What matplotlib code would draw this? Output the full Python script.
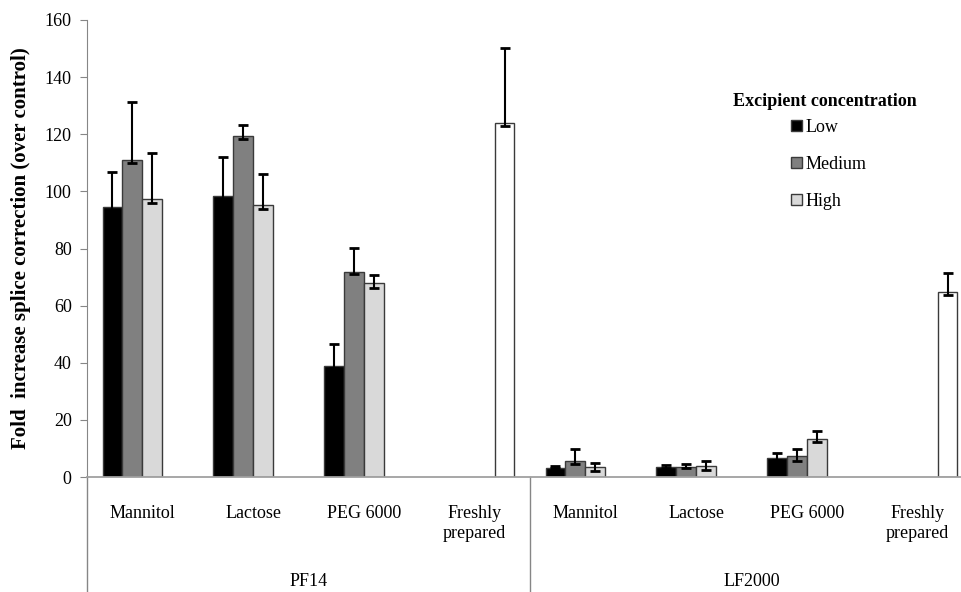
import numpy as np
import matplotlib
matplotlib.use("Agg")
from matplotlib import pyplot as plt

plt.rcParams['font.family'] = ['Liberation Serif', 'DejaVu Serif']

# categories (two level axis)
cats = ['Mannitol', 'Lactose', 'PEG 6000', 'Freshly\nprepared',
        'Mannitol', 'Lactose', 'PEG 6000', 'Freshly\nprepared']
groups = ['PF14', 'LF2000']

# bar heights
low    = [94.6, 98.4, 39.0, 0, 3.3, 3.5, 6.5, 0]
medium = [111.0, 119.4, 71.9, 0, 5.6, 3.6, 7.5, 0]
high   = [97.3, 95.2, 67.8, 0, 3.6, 3.8, 13.2, 0]
fresh  = [0, 0, 0, 123.8, 0, 0, 0, 64.9]

# error bars (upper / lower)
low_up    = [12.3, 13.6, 7.6, 0, 0.5, 0.6, 1.8, 0]
low_dn    = [1.0, 1.0, 1.0, 0, 0.3, 0.3, 0.5, 0]
medium_up = [20.4, 3.7, 8.2, 0, 4.1, 0.8, 2.2, 0]
medium_dn = [1.0, 1.0, 1.0, 0, 1.1, 0.5, 1.9, 0]
high_up   = [16.2, 10.9, 2.9, 0, 1.2, 1.8, 2.9, 0]
high_dn   = [1.5, 1.5, 1.5, 0, 1.5, 1.4, 1.1, 0]
fresh_up  = [0, 0, 0, 26.3, 0, 0, 0, 6.4]
fresh_dn  = [0, 0, 0, 1.0, 0, 0, 0, 1.2]

series = [('Low', low, low_up, low_dn, 'black'),
          ('Medium', medium, medium_up, medium_dn, '#808080'),
          ('High', high, high_up, high_dn, '#d9d9d9'),
          ('Freshly', fresh, fresh_up, fresh_dn, 'white')]

fig = plt.figure(figsize=(9.61, 5.92), dpi=100)
W, H = 961, 592
ax = fig.add_axes([87 / W, 115 / H, 886 / W, 457 / H])

x = np.arange(len(cats))
w = 0.18
for i, (name, vals, up, dn, col) in enumerate(series):
    vals = np.array(vals, dtype=float)
    m = vals > 0
    xs = x[m] + (i - 1.5) * w
    ax.bar(xs, vals[m], w, color=col, edgecolor='#3a3a3a', linewidth=1,
           label=name if i < 3 else None, zorder=2)
    ax.errorbar(xs, vals[m], yerr=[np.array(dn)[m], np.array(up)[m]], fmt='none',
                ecolor='black', elinewidth=1.5, capsize=3.5, capthick=2, zorder=3)

ax.set_xlim(-0.5, 7.5)
ax.set_ylim(0, 160)
ax.set_yticks(np.arange(0, 161, 20))
ax.tick_params(axis='y', labelsize=13, length=5, color='#868686', pad=6)
ax.set_xticks(x)
ax.set_xticklabels(cats, fontsize=13, va='top', linespacing=1.25)
ax.tick_params(axis='x', length=0, pad=20)
for s in ['top', 'right']:
    ax.spines[s].set_visible(False)
ax.spines['left'].set_color('#868686')
ax.spines['bottom'].set_color('#a0a0a0')
ax.spines['bottom'].set_linewidth(1.3)

# group dividers and labels
for xv in [-0.5, 3.5]:
    ax.plot([xv, xv], [0, -0.3], transform=ax.get_xaxis_transform(),
            color='#868686', lw=1, clip_on=False)
for gi, g in enumerate(groups):
    ax.text(gi * 4 + 1.5, -105 / 457, g, transform=ax.get_xaxis_transform(),
            ha='center', va='center', fontsize=13)

ax.set_ylabel('Fold  increase splice correction (over control)', fontsize=15,
              fontweight='bold', labelpad=10)

# legend title as a separate text, entries below it
ax.text((825 - 87) / 886, (477 - 102) / 457, 'Excipient concentration',
        transform=ax.transAxes, ha='center', va='center', fontsize=13,
        fontweight='bold')
ax.legend(frameon=False, fontsize=13,
          loc='upper left', bbox_to_anchor=((791 - 87) / 886, (477 - 119) / 457),
          handlelength=0.6, handleheight=0.6, handletextpad=0.2,
          labelspacing=1.1, borderpad=0, borderaxespad=0)

fig.savefig('out.png', dpi=100)
